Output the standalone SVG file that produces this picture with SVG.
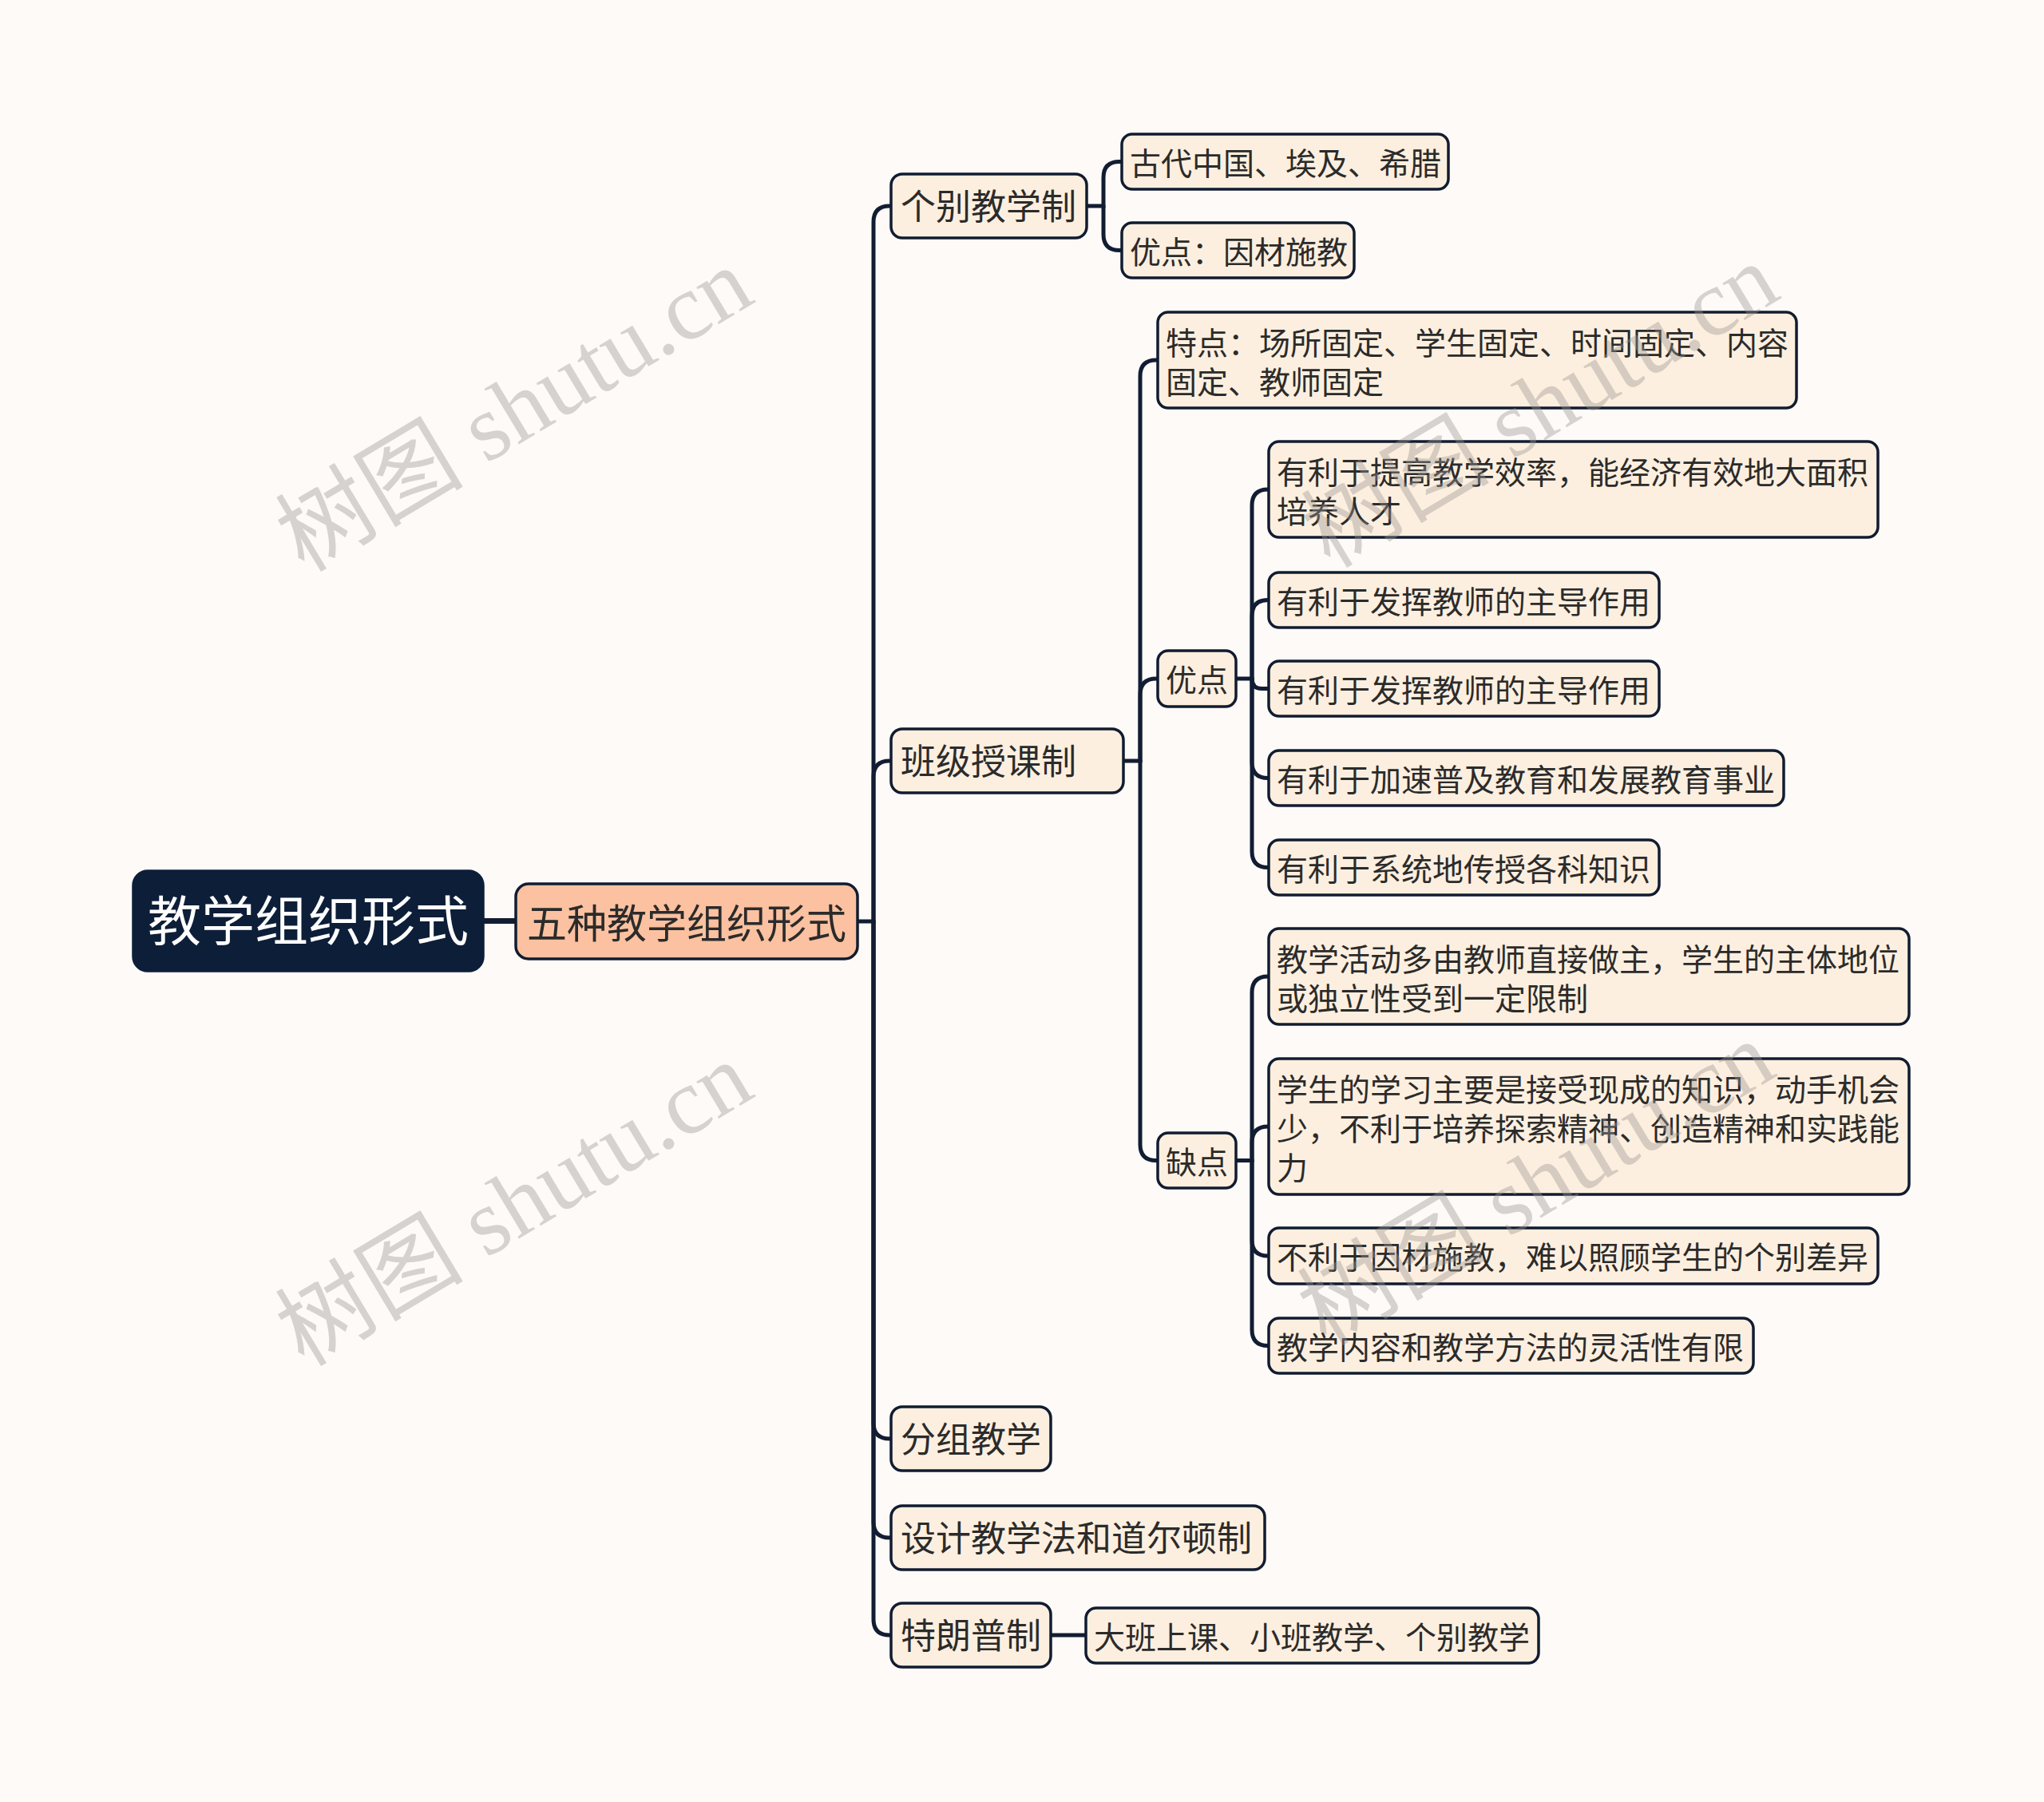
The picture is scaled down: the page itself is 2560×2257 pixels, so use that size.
<svg xmlns="http://www.w3.org/2000/svg" width="2560" height="2257" viewBox="0 0 2560 2257">
<style>
.bg{fill:#fdfaf8}
.node rect{fill:#fdefdf;stroke:#111c30;stroke-width:3.5}
.node text{font-family:"Noto Sans CJK SC","Noto Sans",sans-serif;fill:#2b2b2b;font-size:39px}
.l2 text{font-size:44px}
#root rect{fill:#0d1e38;stroke:#0d1e38}
#root text{fill:#ffffff;font-size:67px}
#l1 rect{fill:#fbc1a0}
#l1 text{font-size:50px}
.conn path{fill:none;stroke:#121d33;stroke-width:5;stroke-linecap:round}
.wm text{font-family:"Liberation Serif","Noto Sans CJK SC",serif;font-size:118px;fill:#9c9690;fill-opacity:0.4}
</style>
<rect class="bg" x="0" y="0" width="2560" height="2257"/>

<g id="connectors" class="conn">
  <path d="M605 1153.5 H646" style="stroke-width:7"/>
  <path d="M1074 1154 H1094 V278 Q1094 258 1114 258 H1116"/>
  <path d="M1094 1154 V973 Q1094 953 1114 953 H1116"/>
  <path d="M1094 1154 V1782 Q1094 1802 1114 1802 H1116"/>
  <path d="M1094 1154 V1906 Q1094 1926 1114 1926 H1116"/>
  <path d="M1094 1154 V2028 Q1094 2048 1114 2048 H1116"/>
  <path d="M1361 258 H1382 V222.5 Q1382 202.5 1402 202.5 H1405"/>
  <path d="M1382 258 V293.5 Q1382 313.5 1402 313.5 H1405"/>
  <path d="M1407 953 H1428 V471 Q1428 451 1448 451 H1450"/>
  <path d="M1428 953 V870 Q1428 850 1448 850 H1450"/>
  <path d="M1428 953 V1433.5 Q1428 1453.5 1448 1453.5 H1450"/>
  <path d="M1548 850 H1568 V633 Q1568 613 1588 613 H1589"/>
  <path d="M1568 850 V771.5 Q1568 751.5 1588 751.5 H1589"/>
  <path d="M1568 850 Q1568 862.5 1580.5 862.5 H1589"/>
  <path d="M1568 850 V954.5 Q1568 974.5 1588 974.5 H1589"/>
  <path d="M1568 850 V1066.5 Q1568 1086.5 1588 1086.5 H1589"/>
  <path d="M1548 1453.5 H1568 V1243 Q1568 1223 1588 1223 H1589"/>
  <path d="M1568 1453.5 V1431 Q1568 1411 1588 1411 H1589"/>
  <path d="M1568 1453.5 V1553 Q1568 1573 1588 1573 H1589"/>
  <path d="M1568 1453.5 V1665.5 Q1568 1685.5 1588 1685.5 H1589"/>
  <path d="M1316 2048 H1360"/>
</g>

<g id="root" class="node"><rect x="167" y="1091" width="438" height="125" rx="18"/><text x="386" y="1178" text-anchor="middle">教学组织形式</text></g>
<g id="l1" class="node"><rect x="646" y="1107" width="428" height="94" rx="16"/><text x="860" y="1175" text-anchor="middle">五种教学组织形式</text></g>

<g id="n-gebie" class="node l2"><rect x="1116" y="218" width="245" height="80" rx="14"/><text x="1128" y="275">个别教学制</text></g>
<g id="n-banji" class="node l2"><rect x="1116" y="913" width="291" height="80" rx="14"/><text x="1128" y="970">班级授课制</text></g>
<g id="n-fenzu" class="node l2"><rect x="1116" y="1762" width="200" height="80" rx="14"/><text x="1128" y="1819">分组教学</text></g>
<g id="n-sheji" class="node l2"><rect x="1116" y="1886" width="468" height="80" rx="14"/><text x="1128" y="1943">设计教学法和道尔顿制</text></g>
<g id="n-tlp" class="node l2"><rect x="1116" y="2008" width="200" height="80" rx="14"/><text x="1128" y="2065">特朗普制</text></g>

<g id="n-gudai" class="node"><rect x="1405" y="168" width="409" height="69" rx="13"/><text x="1415" y="218.5">古代中国、埃及、希腊</text></g>
<g id="n-ycai" class="node"><rect x="1405" y="279" width="291" height="69" rx="13"/><text x="1415" y="329.5">优点：因材施教</text></g>

<g id="n-tedian" class="node"><rect x="1450" y="391" width="800" height="120" rx="13"/><text x="1460" y="443.5">特点：场所固定、学生固定、时间固定、内容</text><text x="1460" y="492.5">固定、教师固定</text></g>
<g id="n-youdian" class="node"><rect x="1450" y="815" width="98" height="70" rx="13"/><text x="1460" y="866">优点</text></g>
<g id="n-quedian" class="node"><rect x="1450" y="1419" width="98" height="69" rx="13"/><text x="1460" y="1469.5">缺点</text></g>

<g id="n-y1" class="node"><rect x="1589" y="553" width="763" height="120" rx="13"/><text x="1599" y="605.5">有利于提高教学效率，能经济有效地大面积</text><text x="1599" y="654.5">培养人才</text></g>
<g id="n-y2" class="node"><rect x="1589" y="717" width="489" height="69" rx="13"/><text x="1599" y="767.5">有利于发挥教师的主导作用</text></g>
<g id="n-y3" class="node"><rect x="1589" y="828" width="489" height="69" rx="13"/><text x="1599" y="878.5">有利于发挥教师的主导作用</text></g>
<g id="n-y4" class="node"><rect x="1589" y="940" width="645" height="69" rx="13"/><text x="1599" y="990.5">有利于加速普及教育和发展教育事业</text></g>
<g id="n-y5" class="node"><rect x="1589" y="1052" width="489" height="69" rx="13"/><text x="1599" y="1102.5">有利于系统地传授各科知识</text></g>

<g id="n-q1" class="node"><rect x="1589" y="1163" width="802" height="120" rx="13"/><text x="1599" y="1215.5">教学活动多由教师直接做主，学生的主体地位</text><text x="1599" y="1264.5">或独立性受到一定限制</text></g>
<g id="n-q2" class="node"><rect x="1589" y="1326" width="802" height="170" rx="13"/><text x="1599" y="1378.5">学生的学习主要是接受现成的知识，动手机会</text><text x="1599" y="1427.5">少，不利于培养探索精神、创造精神和实践能</text><text x="1599" y="1476.5">力</text></g>
<g id="n-q3" class="node"><rect x="1589" y="1538" width="763" height="70" rx="13"/><text x="1599" y="1589">不利于因材施教，难以照顾学生的个别差异</text></g>
<g id="n-q4" class="node"><rect x="1589" y="1651" width="607" height="69" rx="13"/><text x="1599" y="1701.5">教学内容和教学方法的灵活性有限</text></g>

<g id="n-daban" class="node"><rect x="1360" y="2014" width="567" height="69" rx="13"/><text x="1370" y="2064.5">大班上课、小班教学、个别教学</text></g>

<g class="wm">
  <text transform="translate(645 515) rotate(-31)" x="0" y="38" text-anchor="middle">树图 shutu.cn</text>
  <text transform="translate(645 1510) rotate(-31)" x="0" y="38" text-anchor="middle">树图 shutu.cn</text>
  <text transform="translate(1930 510) rotate(-31)" x="0" y="38" text-anchor="middle">树图 shutu.cn</text>
  <text transform="translate(1925 1484) rotate(-31)" x="0" y="38" text-anchor="middle">树图 shutu.cn</text>
</g>
</svg>
